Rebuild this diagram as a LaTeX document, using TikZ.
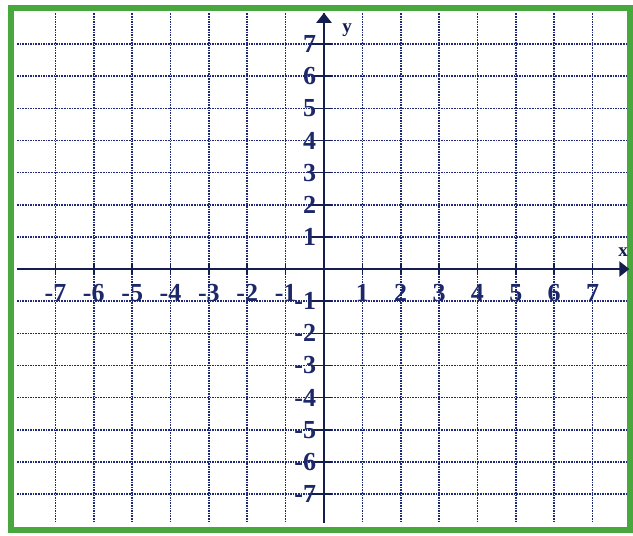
\documentclass[tikz,border=0pt]{standalone}
\usepackage{fontspec}
\setmainfont{Liberation Serif}
\usepackage{xcolor}
\usepackage{tikz}
\usetikzlibrary{arrows.meta}

\definecolor{gridblue}{RGB}{30,40,120}
\definecolor{axisnavy}{RGB}{20,30,78}
\definecolor{labelnavy}{RGB}{28,40,105}
\definecolor{framegreen}{RGB}{72,168,62}

\tikzset{
  gridline/.style={draw=gridblue, line width=1.6pt, densely dotted},
  axisline/.style={draw=axisnavy, line width=2.4pt, -{Triangle[length=10pt,width=15pt]}},
  tickline/.style={draw=axisnavy, line width=1.6pt},
  numlabel/.style={text=labelnavy, font=\fontsize{26}{26}\selectfont\bfseries, inner sep=0pt},
  axislabel/.style={text=axisnavy, font=\fontsize{19}{19}\selectfont\bfseries, inner sep=0pt}
}

\begin{document}
\begin{tikzpicture}[x=38.36pt, y=32.14pt]
                    \useasboundingbox (-8.446,-8.276) rectangle (8.055,8.370);
                    \fill[white] (-8.446,-8.276) rectangle (8.055,8.370);

                    % grid
                    \foreach \k in {-7,...,7} {
                        \draw[gridline] (\k,7.95) -- (\k,-7.9);
                        \draw[gridline] (-8.0,\k) -- (7.9,\k);
                    }

                    % frame
                    \draw[draw=framegreen, line width=6pt] (-8.16,-8.12) rectangle (7.977,8.12);

                    % axes
                    \coordinate (O) at (0,0);
                    \coordinate (xstart) at (-8.0,0);
                    \coordinate (xend) at (7.96,0);
                    \coordinate (ybot) at (0,-7.9);
                    \coordinate (ytop) at (0,7.97);
                    \draw[axisline] (xstart) -- (xend);
                    \draw[axisline] (ybot) -- (ytop);

                    % ticks and numbers
                    \foreach \k in {-7,...,-1,1,2,...,7} {
                        \draw[tickline] (\k,0.19) -- (\k,-0.19);
                        \draw[tickline] (-0.3,\k) -- (0.2,\k);
                        \node[numlabel] (xl\k) at (\k,-0.75) {\k};
                        \node[numlabel, anchor=east] (yl\k) at (-0.2,\k) {\k};
                    }

                    \node[axislabel] (xname) at (7.8,0.53) {x};
                    \node[axislabel] (yname) at (0.6,7.44) {y};
                 \end{tikzpicture}
\end{document}
